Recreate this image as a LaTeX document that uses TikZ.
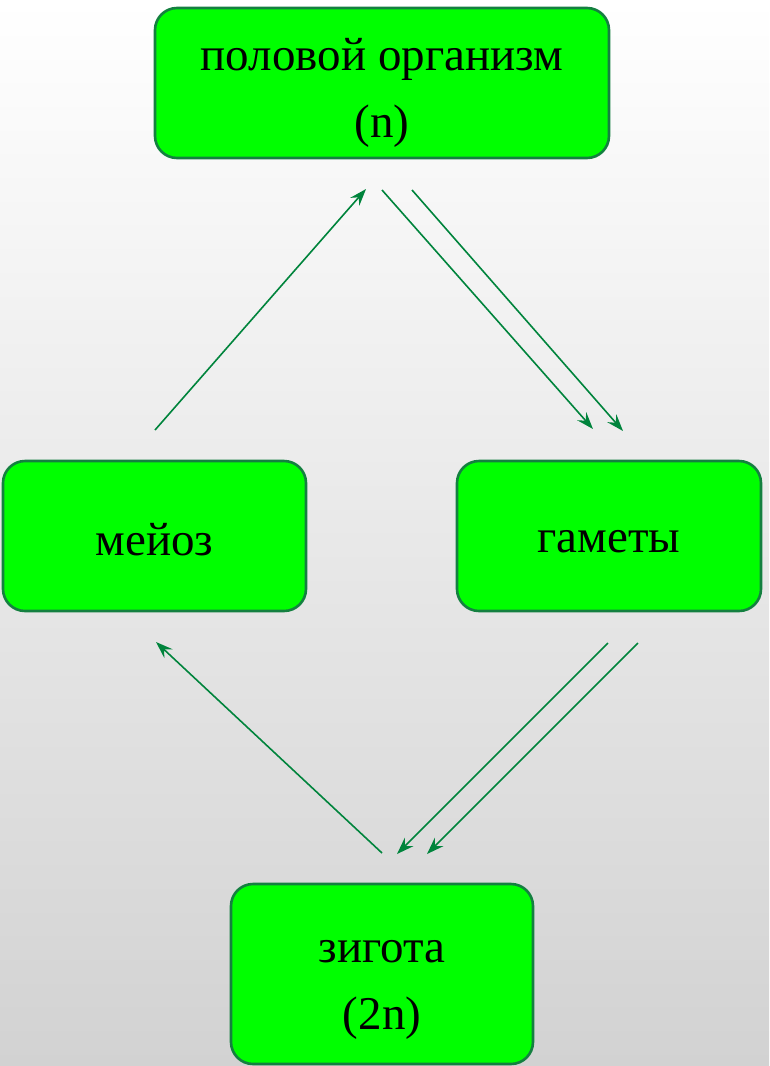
\documentclass[tikz,border=0pt]{standalone}
\usepackage{fontspec}
\setmainfont{Liberation Serif}
\usetikzlibrary{arrows.meta}
\definecolor{boxgreen}{RGB}{0,255,0}
\definecolor{edgegreen}{RGB}{20,128,64}
\definecolor{arrowgreen}{RGB}{0,132,60}
\definecolor{bgbottom}{RGB}{210,210,210}
% lower a label inside its box without changing the box size
\newcommand{\lowered}[2]{\raisebox{-#1}[\height][\depth]{#2}}
\begin{document}
\begin{tikzpicture}[x=1pt,y=-1pt,
  stage/.style={draw=edgegreen, line width=2.6pt, fill=boxgreen,
    rounded corners=22pt, align=center, inner sep=0pt,
    font=\fontsize{47}{67}\selectfont},
  flow/.style={draw=arrowgreen, line width=1.6pt,
    -{Stealth[length=17pt,width=12pt,inset=6pt]}}]
  % backdrop
  \shade[top color=white, bottom color=bgbottom] (0,0) rectangle (769,1066);
  \useasboundingbox (0,0) rectangle (769,1066);

  % stages of the cycle
  \node[stage, minimum width=454pt, minimum height=150pt] (org) at (382,83)
    {\lowered{8pt}{\begin{tabular}{@{}c@{}}половой организм\\(n)\end{tabular}}};
  \node[stage, minimum width=303pt, minimum height=150pt] (meio) at (154.5,536)
    {\lowered{4pt}{мейоз}};
  \node[stage, minimum width=304pt, minimum height=150pt] (gam) at (609,536)
    {\lowered{1pt}{гаметы}\vphantom{й}};
  \node[stage, minimum width=302pt, minimum height=180pt] (zyg) at (382,974)
    {\lowered{9pt}{\begin{tabular}{@{}c@{}}зигота\\(2n)\end{tabular}}};

  % arrow end points
  \coordinate (m1) at (155,430);
  \coordinate (m2) at (366,189);
  \coordinate (g1a) at (382,190);
  \coordinate (g2a) at (593,429);
  \coordinate (g1b) at (412,190);
  \coordinate (g2b) at (623,431);
  \coordinate (z1a) at (608,643);
  \coordinate (z2a) at (397,854);
  \coordinate (z1b) at (638,643);
  \coordinate (z2b) at (427,854);
  \coordinate (r1) at (382,853);
  \coordinate (r2) at (156,642);

  \draw[flow] (m1) -- (m2);
  \draw[flow] (g1a) -- (g2a);
  \draw[flow] (g1b) -- (g2b);
  \draw[flow] (z1a) -- (z2a);
  \draw[flow] (z1b) -- (z2b);
  \draw[flow] (r1) -- (r2);
\end{tikzpicture}
\end{document}
